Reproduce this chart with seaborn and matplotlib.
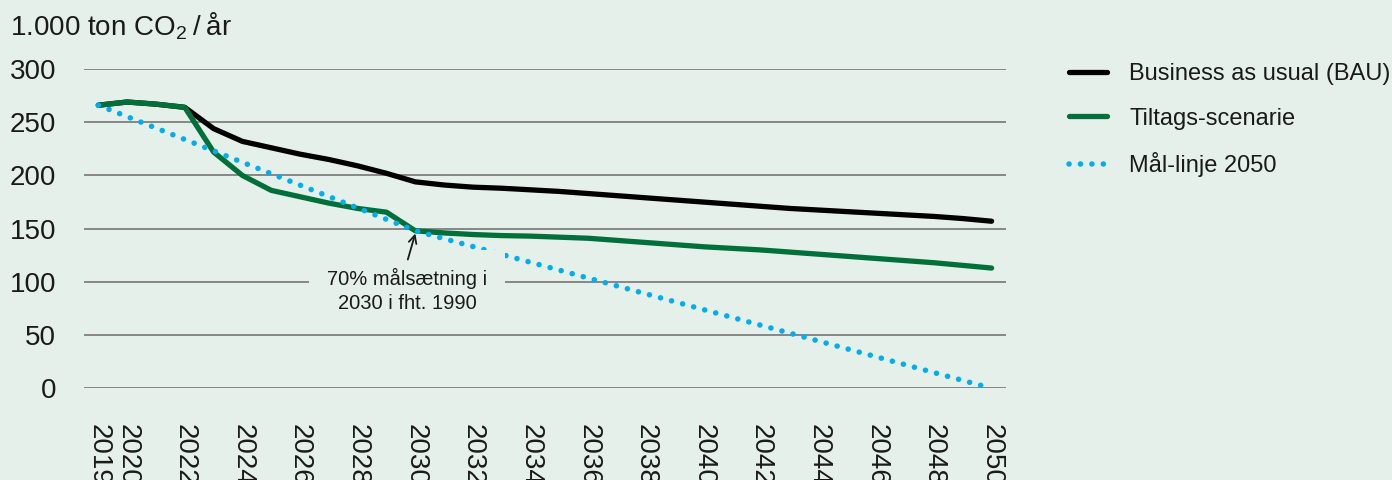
import numpy as np
import pandas as pd
import seaborn as sns
import matplotlib.pyplot as plt

# values (1.000 ton CO2 per year)
years = list(range(2019, 2051))
bau = [266, 269, 267, 264, 244, 232, 226, 220, 215, 209, 202, 194,
       191, 189, 188, 186.5, 185, 183, 181, 179, 177, 175, 173, 171,
       169, 167.5, 166, 164.5, 163, 161.5, 159.5, 157]
tiltag = [266, 269, 267, 264, 222, 200, 186, 180, 174, 169, 165.5, 148,
          146, 144.5, 143.5, 143, 142, 141, 139, 137, 135, 133, 131.5, 130,
          128, 126, 124, 122, 120, 118, 115.5, 113]
maal_years = [2019, 2030, 2050]
maal = [266, 148, 0]

tick_years = [2019] + list(range(2020, 2051, 2))
y_ticks = [0, 50, 100, 150, 200, 250, 300]

labels = ['Business as usual (BAU)', 'Tiltags-scenarie', 'Mål-linje 2050']
colors = ['#000000', '#00703a', '#00aeef']
bg = '#e6f0ea'
txt = '#1a1a1a'

sns.set_theme(style='white')
plt.rcParams['font.family'] = ['Liberation Sans', 'DejaVu Sans']
plt.rcParams['mathtext.fontset'] = 'custom'
plt.rcParams['mathtext.rm'] = 'Liberation Sans'
plt.rcParams['mathtext.it'] = 'Liberation Sans'

df_bau = pd.DataFrame({'year': years, 'value': bau})
df_tiltag = pd.DataFrame({'year': years, 'value': tiltag})
df_maal = pd.DataFrame({'year': maal_years, 'value': maal})

fig = plt.figure(figsize=(13.92, 4.8), dpi=100, facecolor=bg)
ax = fig.add_axes([0.0603, 0.191, 0.6624, 0.6652])
ax.set_facecolor(bg)

line_kw = dict(lw=3.8, clip_on=False, solid_capstyle='round', solid_joinstyle='round')
sns.lineplot(data=df_bau, x='year', y='value', ax=ax, color=colors[0], label=labels[0], zorder=3, **line_kw)
sns.lineplot(data=df_tiltag, x='year', y='value', ax=ax, color=colors[1], label=labels[1], zorder=4, **line_kw)
sns.lineplot(data=df_maal, x='year', y='value', ax=ax, color=colors[2], label=labels[2], zorder=5,
             lw=4.0, clip_on=False, linestyle=(0, (0.01, 2.05)), dash_capstyle='round')

ax.set_xlim(2018.5, 2050.5)
ax.set_ylim(0, 300)
ax.set_xticks(tick_years)
ax.set_xticklabels([str(y) for y in tick_years], rotation=-90, fontsize=20)
ax.set_yticks(y_ticks)
ax.set_yticklabels([str(v) for v in y_ticks], fontsize=20)
ax.tick_params(axis='both', length=0, colors=txt)
ax.tick_params(axis='x', pad=26)
ax.tick_params(axis='y', pad=20)
ax.set_xlabel('')
ax.set_ylabel('')
ax.grid(False)
ax.yaxis.grid(True, color='#7f7f7f', lw=1.3)
ax.set_axisbelow(True)
for s in ax.spines.values():
    s.set_visible(False)

fig.text(0.007, 1 - 36 / 480, '1.000 ton CO$_2$\u2009/\u2009år', fontsize=20, color=txt, va='baseline')

# annotation for the 2030 target
ax.text(2029.72, 92, '70% målsætning i\n2030 i fht. 1990', fontsize=14.5, ha='center', va='center',
        linespacing=1.35, color=txt, zorder=6,
        bbox=dict(boxstyle='square,pad=0.9', fc=bg, ec='none'))
ax.annotate('', xy=(2030, 145.5), xytext=(2029.74, 121),
            arrowprops=dict(arrowstyle='->', color=txt, lw=1.3, shrinkA=0, shrinkB=0,
                            mutation_scale=14), zorder=6)

leg = ax.legend(loc='upper left', bbox_to_anchor=(1048 / 1392, 1 - 42 / 480),
                bbox_transform=fig.transFigure, frameon=False, fontsize=17,
                handlelength=1.6, handletextpad=0.95, labelspacing=0.95)
for t in leg.get_texts():
    t.set_color(txt)

fig.savefig('out.png', dpi=100, facecolor=bg)
